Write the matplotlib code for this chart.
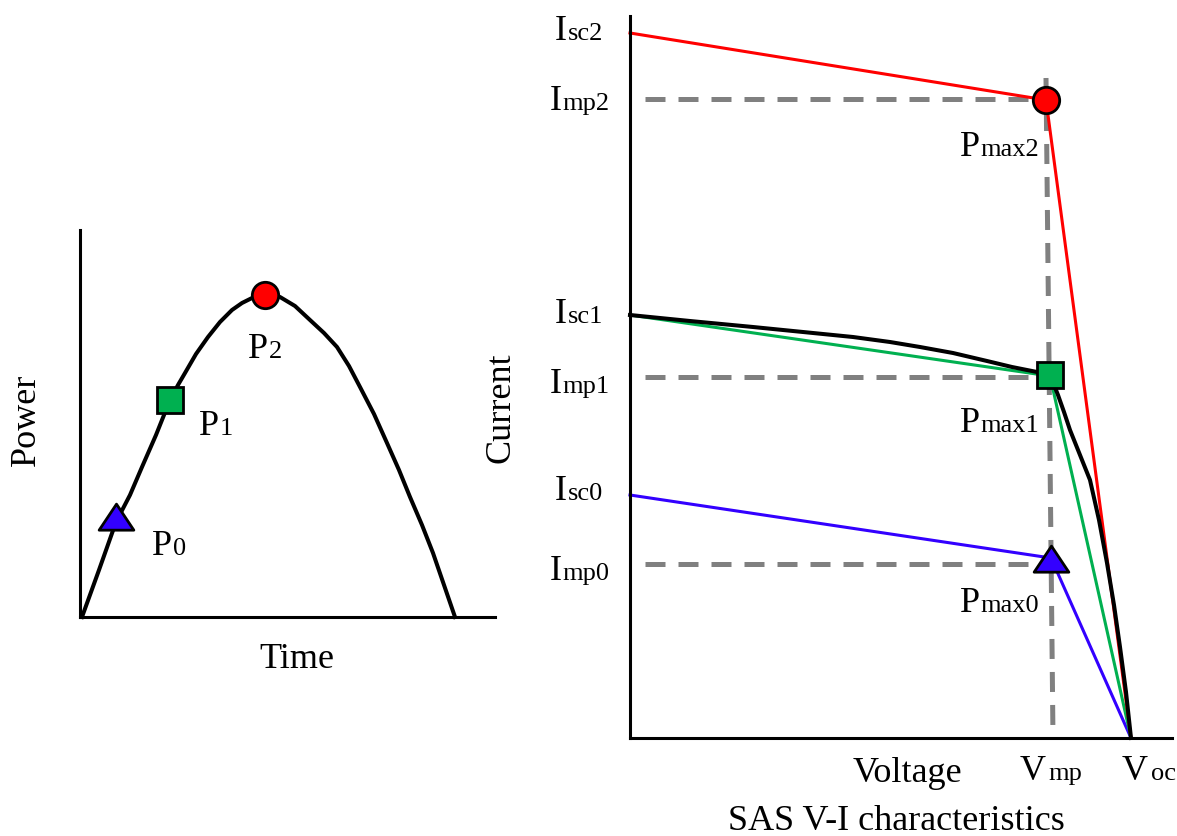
import matplotlib
matplotlib.use("Agg")
import matplotlib.pyplot as plt
from matplotlib.path import Path
from matplotlib.markers import MarkerStyle

plt.rcParams['font.family'] = ['Liberation Serif', 'DejaVu Serif']

# ---------------- data ----------------
# Left panel: power versus time (arbitrary units)
time_pts = [2, 19, 36, 50, 62, 76, 90, 98, 105, 116, 128, 140, 152, 162, 172, 185,
            200, 215, 230, 244, 257, 269, 280, 294, 307, 319, 330, 342, 353, 364, 375]
power_pts = [0, 47, 95, 122, 150, 182, 217, 232, 244, 263, 280, 295, 307, 314, 319, 323,
             320, 311, 297, 284, 270, 251, 230, 203, 174, 147, 120, 92, 64, 32, 0]
p_time = [36, 90, 185]          # P0, P1, P2
p_power = [96, 217, 322]
p_names = [("P", "0"), ("P", "1"), ("P", "2")]

# Right panel: SAS V-I characteristics (arbitrary units)
v_oc = 501
v_mp_top, v_mp_bottom = 416, 423
i_sc = [243, 423, 705]           # Isc0, Isc1, Isc2
i_mp = [174, 361, 639]           # Imp0, Imp1, Imp2 (dashed levels)
pmax_v = [421, 420, 416]         # markers Pmax0, Pmax1, Pmax2
pmax_i = [175, 363, 638]
knee_i = [180, 362, 638]         # where the straight segments meet

# Black measured curve (level 1)
black_v = [0, 60, 123, 173, 223, 260, 290, 323, 340, 357, 382, 407, 420,
           424, 428, 434, 440, 450, 460, 469, 477, 484, 490, 496, 501]
black_i = [423, 417, 411, 406, 401, 396, 391, 385, 381, 377, 371, 366, 362,
           353, 343, 326, 308, 283, 258, 218, 175, 133, 91, 46, 0]

series_colors = ['#3300FF', '#00B050', '#FF0000']
marker_kinds = ['tri', 's', 'o']

W, H = 1177, 836
fig = plt.figure(figsize=(W / 100, H / 100), dpi=100)

MAIN_FS = 26
SUB_FS = 19
LW_AX = 2.2

tri_path = Path([(-1, -0.5), (1, -0.5), (0, 1), (-1, -0.5)], closed=True)
tri_marker = MarkerStyle(tri_path, joinstyle='miter')
sq_marker = MarkerStyle('s', joinstyle='miter')


def marker_style(kind):
    if kind == 'tri':
        return tri_marker, 25
    if kind == 's':
        return sq_marker, 19
    return MarkerStyle('o'), 19


def style_axes(ax):
    for s in ['top', 'right']:
        ax.spines[s].set_visible(False)
    for s in ['left', 'bottom']:
        ax.spines[s].set_linewidth(LW_AX)
        ax.spines[s].set_color('black')
    ax.set_xticks([])
    ax.set_yticks([])
    ax.patch.set_alpha(0)


def sub_label(ax, x, y, main, sub, gap=0.5, ha='left'):
    t = ax.text(x, y, main, fontsize=MAIN_FS, ha=ha, va='baseline', clip_on=False)
    ax.annotate(sub, xy=(1, y), xycoords=(t, 'data'), xytext=(gap, 0),
                textcoords='offset points', fontsize=SUB_FS, ha='left',
                va='baseline', annotation_clip=False)
    return t


# ---------------- left panel ----------------
axL = fig.add_axes([80 / W, (H - 617) / H, 415 / W, 387 / H])
axL.set_xlim(0, 415)
axL.set_ylim(0, 387)
style_axes(axL)
axL.plot(time_pts, power_pts, color='black', lw=2.9, clip_on=False, zorder=2,
         solid_joinstyle='round')
for k in range(3):
    m, ms = marker_style(marker_kinds[k])
    axL.plot([p_time[k]], [p_power[k]], linestyle='none', marker=m, markersize=ms,
             markerfacecolor=series_colors[k], markeredgecolor='black',
             markeredgewidth=2.0, clip_on=False, zorder=4)

label_pos_L = [(72, 62), (119, 182), (168, 259)]
for (x, y), (a, b) in zip(label_pos_L, p_names):
    sub_label(axL, x, y, a, b, gap=0.5)

axL.text(217, -51, "Time", fontsize=MAIN_FS, ha='center', va='baseline', clip_on=False)
axL.text(-54, 197, "Power", fontsize=MAIN_FS, ha='center', va='center', rotation=90,
         clip_on=False)

# ---------------- right panel ----------------
axR = fig.add_axes([630 / W, (H - 738) / H, 542 / W, 722 / H])
axR.set_xlim(0, 542)
axR.set_ylim(0, 722)
style_axes(axR)

grey = '#808080'
dash_h = (4, (4, 2.6))
# horizontal dashed lines at Imp levels
for k in range(3):
    axR.plot([2, pmax_v[k]], [i_mp[k], i_mp[k]], color=grey, lw=3.6,
             linestyle=dash_h, clip_on=False, zorder=1)
# vertical dashed line at Vmp
axR.plot([v_mp_top, v_mp_bottom], [660, 0], color=grey, lw=3.6,
         linestyle=(0, (4, 2.6)), clip_on=False, zorder=1)

# straight-segment approximations
for k in range(3):
    axR.plot([0, pmax_v[k], v_oc], [i_sc[k], knee_i[k], 0],
             color=series_colors[k], lw=2.2, clip_on=False, zorder=2,
             solid_joinstyle='miter')
# black measured curve
axR.plot(black_v, black_i, color='black', lw=2.9, clip_on=False, zorder=3,
         solid_joinstyle='round')

# markers
for k in range(3):
    m, ms = marker_style(marker_kinds[k])
    axR.plot([pmax_v[k]], [pmax_i[k]], linestyle='none', marker=m, markersize=ms,
             markerfacecolor=series_colors[k], markeredgecolor='black',
             markeredgewidth=2.0, clip_on=False, zorder=5)

# current labels on the left
isc_pos = [(-75, 238), (-75, 415), (-75, 698)]
imp_pos = [(-80, 158), (-80, 345), (-80, 628)]
for k in range(3):
    sub_label(axR, isc_pos[k][0], isc_pos[k][1], "I", "sc%d" % k, gap=0.5)
    sub_label(axR, imp_pos[k][0], imp_pos[k][1], "I", "mp%d" % k, gap=0.5)

# Pmax labels
pmax_pos = [(330, 126), (330, 306), (330, 582)]
for k in range(3):
    sub_label(axR, pmax_pos[k][0], pmax_pos[k][1], "P", "max%d" % k, gap=0.3)

sub_label(axR, 390, -42, "V", "mp", gap=2.0)
sub_label(axR, 492, -42, "V", "oc", gap=2.0)

axR.text(223, -44, "Voltage", fontsize=MAIN_FS, ha='left', va='baseline', clip_on=False)
axR.text(98, -92, "SAS V-I characteristics", fontsize=MAIN_FS, ha='left',
         va='baseline', clip_on=False)
axR.text(-129, 330, "Current", fontsize=MAIN_FS, ha='center', va='center',
         rotation=90, clip_on=False)

fig.savefig("out.png", dpi=100, facecolor='white')
